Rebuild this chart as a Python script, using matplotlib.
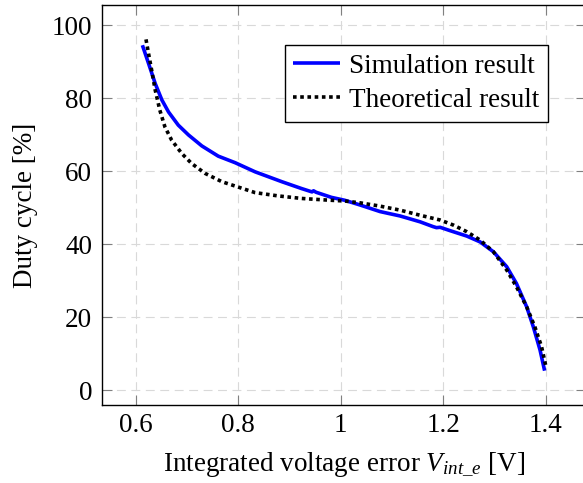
import matplotlib
matplotlib.use("Agg")
import matplotlib.pyplot as plt

plt.rcParams.update({
    "font.family": "Liberation Serif",
    "font.size": 19.5,
    "mathtext.fontset": "custom",
    "mathtext.rm": "Liberation Serif",
    "mathtext.it": "Liberation Serif:italic",
    "mathtext.bf": "Liberation Serif:bold",
})

# simulation result
sim_x = [0.613, 0.625, 0.638, 0.651, 0.664, 0.683, 0.703, 0.729, 0.761, 0.794,
         0.833, 0.885, 0.924, 0.944, 0.947, 0.952, 0.982, 1.008, 1.038, 1.077,
         1.116, 1.155, 1.180, 1.187, 1.194, 1.213, 1.246, 1.272, 1.298, 1.324,
         1.343, 1.363, 1.376, 1.389, 1.398]
sim_y = [94.5, 89.5, 84.0, 79.5, 76.2, 72.6, 69.9, 66.9, 64.1, 62.3,
         59.8, 57.1, 55.2, 54.3, 54.6, 54.2, 52.8, 52.0, 50.7, 48.9,
         47.7, 46.1, 44.8, 44.5, 44.6, 43.7, 42.2, 40.6, 37.9, 33.8,
         29.2, 22.8, 17.3, 11.0, 5.3]

# theoretical result
theo_x = [0.620, 0.625, 0.631, 0.638, 0.647, 0.657, 0.670, 0.690, 0.709, 0.735,
          0.768, 0.807, 0.833, 0.878, 0.924, 0.969, 1.008, 1.038, 1.077, 1.116,
          1.155, 1.194, 1.220, 1.246, 1.272, 1.298, 1.324, 1.343, 1.363, 1.379,
          1.392, 1.400]
theo_y = [96.1, 92.2, 87.7, 82.2, 76.7, 72.1, 68.5, 64.8, 62.1, 59.4,
          57.1, 55.3, 54.1, 53.2, 52.5, 52.1, 51.8, 51.3, 50.4, 49.3,
          47.9, 46.6, 45.2, 43.4, 41.1, 37.9, 32.9, 28.3, 22.8, 17.3,
          11.9, 6.8]

x_ticks = [0.6, 0.8, 1.0, 1.2, 1.4]
x_tick_labels = ["0.6", "0.8", "1", "1.2", "1.4"]
y_ticks = [0, 20, 40, 60, 80, 100]

fig = plt.figure(figsize=(5.83, 4.83), dpi=100)
ax = fig.add_axes([0.175, 0.1615, 0.830, 0.828])

ax.plot(sim_x, sim_y, color="blue", linewidth=2.6, label="Simulation result",
        solid_capstyle="butt")
ax.plot(theo_x, theo_y, color="black", linewidth=2.6, linestyle=(0, (1, 1.0)),
        label="Theoretical result")

ax.set_xlim(0.5342, 1.4786)
ax.set_ylim(-4.1, 105.5)
ax.set_xticks(x_ticks)
ax.set_xticklabels(x_tick_labels)
ax.set_yticks(y_ticks)

ax.grid(True, color="#d9d9d9", linewidth=0.8, linestyle=(0, (8, 5)))
ax.set_axisbelow(True)
ax.tick_params(direction="in", length=7.5, width=0.8, color="#808080",
               top=True, right=True, labelsize=19.5)
ax.tick_params(axis="y", pad=7)
ax.tick_params(axis="x", pad=6)
for s in ax.spines.values():
    s.set_linewidth(1.0)
    s.set_color("black")

ax.set_xlabel(r"Integrated voltage error $V_{int\_e}$ [V]", fontsize=19.5, labelpad=9)
ax.set_ylabel("Duty cycle [%]", fontsize=19.5, labelpad=10)

leg = ax.legend(loc="upper right", bbox_to_anchor=(0.9215, 0.9), borderaxespad=0,
                fontsize=19.5, handlelength=1.7, handletextpad=0.35, labelspacing=0.34,
                borderpad=0.32, fancybox=False, framealpha=1, edgecolor="black")
leg.get_frame().set_linewidth(1.0)

fig.savefig("out.png", dpi=100)
